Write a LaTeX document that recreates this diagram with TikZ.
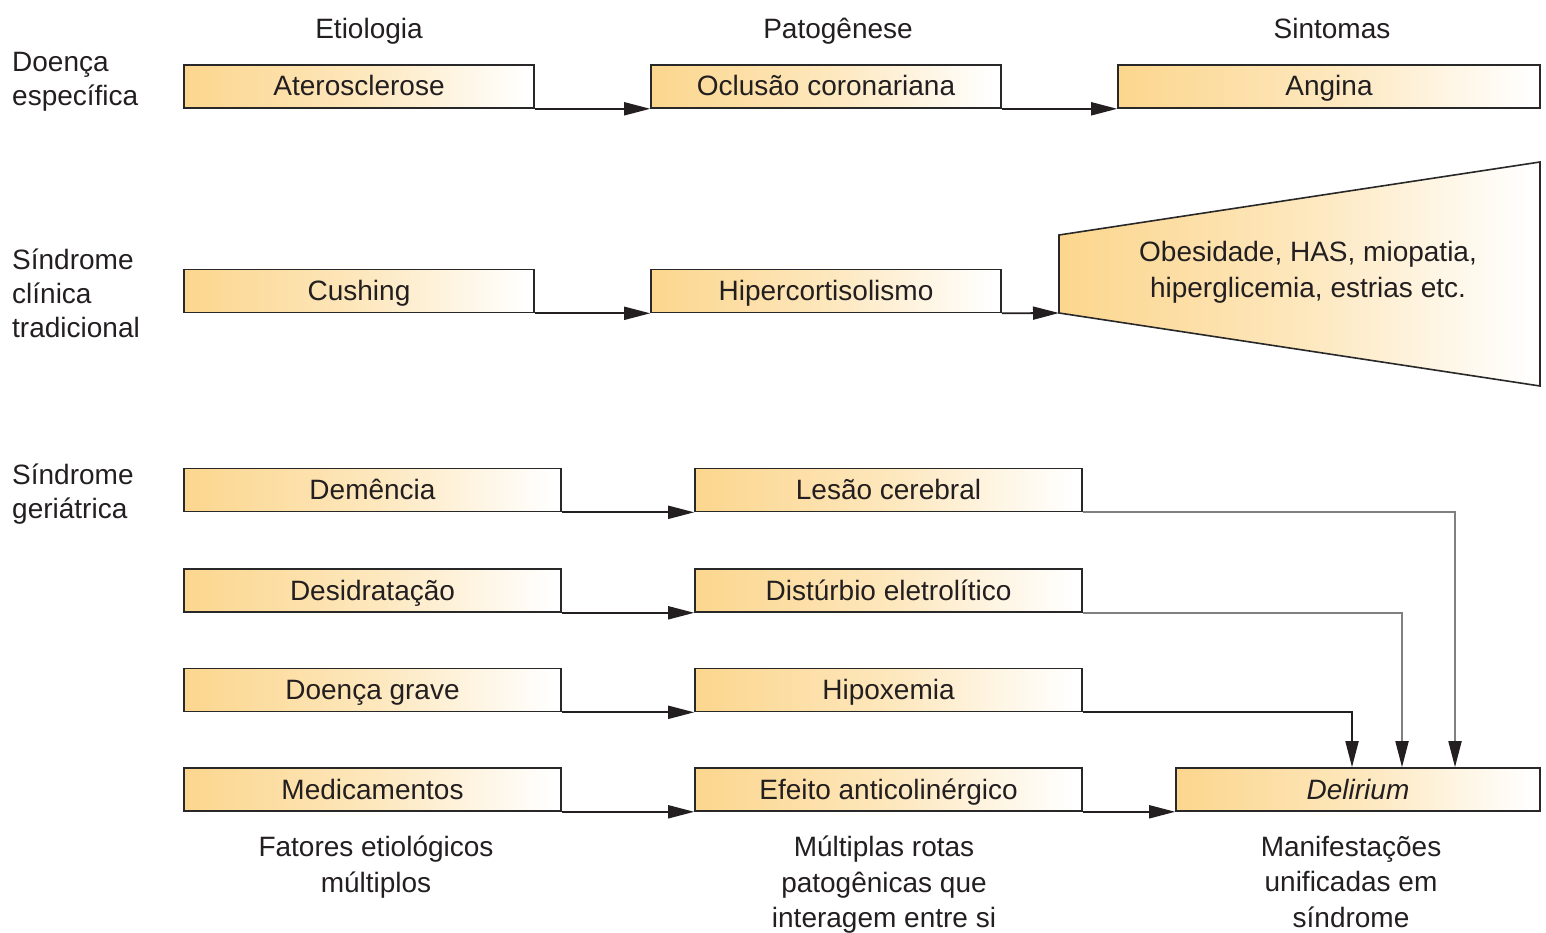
\documentclass[tikz,border=0pt]{standalone}
\usepackage{fontspec}
\setmainfont{Liberation Sans}
\usetikzlibrary{arrows.meta}
\definecolor{boxl}{RGB}{252,214,142}
\definecolor{boxm}{RGB}{253,231,188}
\definecolor{ink}{RGB}{35,31,32}
\definecolor{edge}{RGB}{40,40,40}
\definecolor{wire}{RGB}{128,128,128}
% warm tint fading to white towards the right
\pgfdeclarehorizontalshading{fade}{100bp}{color(0bp)=(boxl); color(25bp)=(boxl); color(50bp)=(boxm); color(74bp)=(white); color(100bp)=(white)}

\begin{document}
\begin{tikzpicture}[x=1pt,y=-1pt,
  every node/.style={text=ink, font=\fontsize{28}{34}\selectfont},
  box/.style={draw=edge, line width=1.6pt, shading=fade, rectangle, inner sep=0pt,
              minimum height=43pt, text height=22pt, text depth=3pt},
  head/.style={anchor=base},
  side/.style={align=left, anchor=north west, inner sep=0pt},
  foot/.style={align=center, anchor=north, inner sep=0pt, font=\fontsize{28}{35.5}\selectfont},
  link/.style={draw=ink, line width=1.8pt, -{Triangle[length=26pt,width=13pt]}},
  glink/.style={draw=wire, line width=1.8pt, -{Triangle[length=26pt,width=13pt,color=ink,fill=ink]}}
]
\useasboundingbox (0,0) rectangle (1546,933);

% column headings
\node[head] (hEt)  at (369,39)  {Etiologia};
\node[head] (hPat) at (838,39)  {Patogênese};
\node[head] (hSin) at (1332,39) {Sintomas};

% row headings
\node[side] (rDoe) at (12,52)  {Doença\\específica};
\node[side] (rCli) at (12,249) {Síndrome\\clínica\\tradicional};
\node[side] (rGer) at (12,464) {Síndrome\\geriátrica};

% specific disease
\node[box, minimum width=350pt] (ater) at (359,86.5)  {Aterosclerose};
\node[box, minimum width=350pt] (ocl)  at (826,86.5)  {Oclusão coronariana};
\node[box, minimum width=422pt] (ang)  at (1329,86.5) {Angina};
\draw[link] (ater.south east) -- (ocl.south west);
\draw[link] (ocl.south east) -- (ang.south west);

% traditional clinical syndrome
\node[box, minimum width=350pt] (cush)  at (359,291) {Cushing};
\node[box, minimum width=350pt] (hiper) at (826,291) {Hipercortisolismo};
\coordinate (tA) at (1059,235);
\coordinate (tB) at (1540,162);
\coordinate (tC) at (1540,386);
\coordinate (tD) at (1059,313);
\shade[shading=fade] (tA) -- (tB) -- (tC) -- (tD) -- cycle;
\draw[draw=edge, line width=1.6pt, line join=miter] (tA) -- (tB) -- (tC) -- (tD) -- cycle;
\node[align=center, anchor=north, inner sep=0pt, font=\fontsize{28}{36}\selectfont] (symp) at (1308,241)
  {Obesidade, HAS, miopatia,\\hiperglicemia, estrias etc.};
\draw[link] (cush.south east) -- (hiper.south west);
\draw[link] (hiper.south east) -- (tD);

% geriatric syndrome
\node[box, minimum width=377pt] (dem)  at (372.5,490)   {Demência};
\node[box, minimum width=377pt] (des)  at (372.5,590.5) {Desidratação};
\node[box, minimum width=377pt] (grav) at (372.5,690)   {Doença grave};
\node[box, minimum width=377pt] (med)  at (372.5,789.5) {Medicamentos};
\node[box, minimum width=387pt] (les)  at (888.5,490)   {Lesão cerebral};
\node[box, minimum width=387pt] (dist) at (888.5,590.5) {Distúrbio eletrolítico};
\node[box, minimum width=387pt] (hipo) at (888.5,690)   {Hipoxemia};
\node[box, minimum width=387pt] (anti) at (888.5,789.5) {Efeito anticolinérgico};
\node[box, minimum width=364pt] (del)  at (1358,789.5)  {\itshape Delirium};

\draw[link] (dem.south east)  -- (les.south west);
\draw[link] (des.south east)  -- (dist.south west);
\draw[link] (grav.south east) -- (hipo.south west);
\draw[link] (med.south east)  -- (anti.south west);
\draw[link] (anti.south east) -- (del.south west);

\draw[glink] (les.south east)  -| ([xshift=97pt]del.north);
\draw[glink] (dist.south east) -| ([xshift=44pt]del.north);
\draw[link]  (hipo.south east) -| ([xshift=-6pt]del.north);

% column footers
\node[foot] (fEt)  at (376,836)  {Fatores etiológicos\\múltiplos};
\node[foot] (fPat) at (884,836)  {Múltiplas rotas\\patogênicas que\\interagem entre si};
\node[foot] (fSin) at (1351,836) {Manifestações\\unificadas em\\síndrome};
\end{tikzpicture}
\end{document}
